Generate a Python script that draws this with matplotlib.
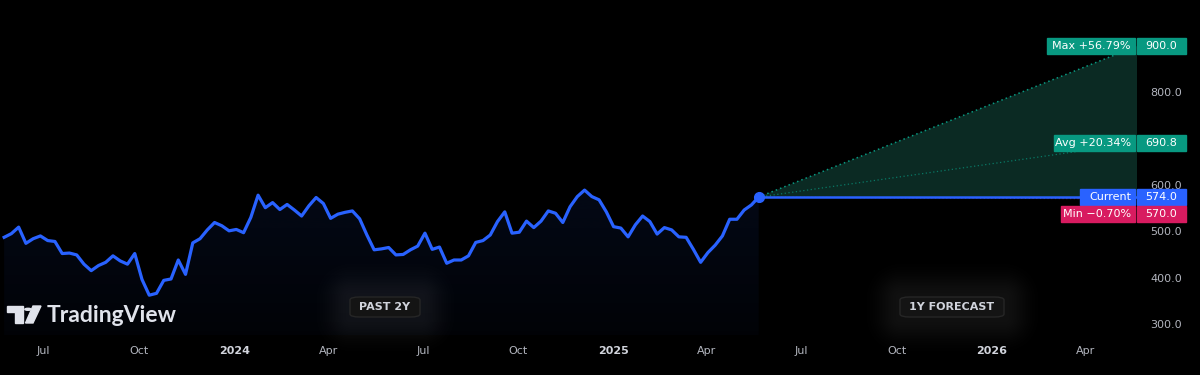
import matplotlib
matplotlib.use('Agg')
import matplotlib.pyplot as plt
import matplotlib.dates as mdates
import matplotlib.transforms as mtransforms
from matplotlib.patches import Rectangle, FancyBboxPatch, Circle, Polygon
import numpy as np
import pandas as pd

# weekly closes, past 2 years
prices = [487, 495, 509, 474, 484, 490, 480, 478, 452, 453,
          449, 429, 415, 426, 433, 447, 436, 429, 452, 396,
          362, 366, 394, 397, 438, 407, 475, 484, 503, 519,
          512, 501, 504, 497, 530, 578, 551, 562, 547, 558,
          546, 533, 555, 573, 560, 528, 537, 541, 544, 527,
          492, 460, 462, 465, 449, 450, 460, 468, 496, 461,
          466, 431, 438, 438, 447, 476, 480, 492, 521, 542,
          496, 498, 522, 508, 522, 544, 539, 519, 553, 575,
          589, 575, 568, 542, 510, 507, 488, 514, 533, 521,
          494, 508, 503, 488, 487, 461, 433, 454, 470, 490,
          526, 526, 546, 557, 574]
last_date = '2025-05-21'
forecast_days = 365

current_price = 574.0
max_target = 900.0
avg_target = 690.8
min_target = 570.0
max_label = 'Max +56.79%'
avg_label = 'Avg +20.34%'
cur_label = 'Current'
min_label = 'Min \u22120.70%'

tick_dates = ['2023-07-01', '2023-10-01', '2024-01-01', '2024-04-01',
              '2024-07-01', '2024-10-01', '2025-01-01', '2025-04-01',
              '2025-07-01', '2025-10-01', '2026-01-01', '2026-04-01']
tick_labels = ['Jul', 'Oct', '2024', 'Apr', 'Jul', 'Oct', '2025', 'Apr',
               'Jul', 'Oct', '2026', 'Apr']
# 700 and 900 sit behind the price tags, so only these show
y_ticks = [300, 400, 500, 600, 800]

BLUE = '#2962ff'
GREEN = '#089981'
PINK = '#d81b60'
BG = '#000000'
GREY = '#b2b5be'

W, H = 1200, 375
fig = plt.figure(figsize=(W / 100, H / 100), dpi=100, facecolor=BG)


def px(x, y):
    return (x / W, 1 - y / H)


# soft glow behind the period pills (drawn in a full-figure background axes)
bg_ax = fig.add_axes([0, 0, 1, 1], zorder=0)
bg_ax.set_axis_off()
gx, gy = np.meshgrid(np.arange(W), np.arange(H))
glow = np.zeros((H, W))
for cx, cy, hw in [(385, 307, 35), (952, 307, 52)]:
    dx = np.maximum(np.abs(gx - cx) - hw, 0)
    dy = np.maximum(np.abs(gy - cy) - 10, 0)
    glow += np.exp(-(dx ** 2 + dy ** 2) / (2 * 16 ** 2))
glow = np.clip(glow, 0, 1) * 0.07
bg_rgba = np.zeros((H, W, 4))
bg_rgba[..., :3] = 1.0
bg_rgba[..., 3] = glow
bg_ax.imshow(bg_rgba, extent=[0, W, H, 0], aspect='auto')
bg_ax.set_xlim(0, W)
bg_ax.set_ylim(H, 0)

ax_h = 335
ax = fig.add_axes([0, (H - ax_h) / H, 1137 / W, ax_h / H], zorder=1)
ax.set_facecolor('none')
for s in ax.spines.values():
    s.set_visible(False)

dates = pd.date_range(end=last_date, periods=len(prices), freq='7D')
end_date = dates[-1] + pd.Timedelta(days=forecast_days)
xn = mdates.date2num(dates)
x_last = xn[-1]
x_end = mdates.date2num(end_date)

y_lo, y_hi = 276, 999.6
ax.set_ylim(y_lo, y_hi)
ax.set_xlim(mdates.date2num(pd.Timestamp('2023-05-20')), x_end)
ppu = ax_h / (y_hi - y_lo)  # pixels per price unit

# gradient fill under the history line
grad = np.linspace(1, 0, 256)
rgba = np.zeros((256, 1, 4))
rgba[..., 0], rgba[..., 1], rgba[..., 2] = 41 / 255, 98 / 255, 1.0
rgba[..., 3] = (0.03 + 0.06 * grad)[:, None]
im = ax.imshow(rgba, extent=[xn[0], x_last, y_lo, max(prices)], aspect='auto',
               origin='upper', zorder=1)
verts = list(zip(xn, prices)) + [(x_last, y_lo), (xn[0], y_lo)]
clip = Polygon(verts, closed=True, transform=ax.transData, facecolor='none', edgecolor='none')
ax.add_patch(clip)
im.set_clip_path(clip)

ax.plot(xn, prices, color=BLUE, lw=2.3, solid_joinstyle='round', zorder=4)

# forecast cone
cone = Polygon([(x_last, current_price), (x_end, max_target), (x_end, min_target)],
               closed=True, facecolor='#0b2a23', edgecolor='none', zorder=2)
ax.add_patch(cone)
ax.plot([x_last, x_end], [current_price, max_target], ls=(0, (1, 2)), color=GREEN, lw=1.1, zorder=3)
ax.plot([x_last, x_end], [current_price, avg_target], ls=(0, (1, 2)), color=GREEN, lw=0.9, alpha=0.7, zorder=3)
ax.plot([x_last, x_end], [current_price, min_target], ls=(0, (1, 2)), color=PINK, lw=0.9, alpha=0.5, zorder=3)
ax.plot([x_last, x_end], [current_price, current_price], color=BLUE, lw=1.8, zorder=4)
ax.plot([x_last], [current_price], 'o', ms=7, color=BLUE, zorder=5)

# axes ticks
ax.yaxis.tick_right()
ax.set_yticks(y_ticks)
ax.set_yticklabels([f'{v:.1f}' for v in y_ticks])
ax.tick_params(axis='y', length=0, pad=9.5, labelsize=8, colors=GREY)
ax.set_xticks(mdates.date2num(pd.to_datetime(tick_dates)))
ax.set_xticklabels(tick_labels)
ax.tick_params(axis='x', length=0, pad=8, labelsize=8, colors=GREY)
for lab in ax.get_xticklabels():
    if lab.get_text().isdigit():
        lab.set_fontweight('bold')
        lab.set_color('#d1d4dc')

# price tags on the right
tr = mtransforms.blended_transform_factory(fig.transFigure, ax.transData)


def tag(yv, left_txt, right_txt, color, left_px, offset_px=0):
    yc = yv - offset_px / ppu
    hh = 8 / ppu
    ax.add_patch(Rectangle((left_px / W, yc - hh), (1135 - left_px) / W, 2 * hh,
                           transform=tr, color=color, clip_on=False, zorder=10))
    ax.add_patch(Rectangle((1137 / W, yc - hh), 49 / W, 2 * hh,
                           transform=tr, color=color, clip_on=False, zorder=10))
    ax.text(1131 / W, yc, left_txt, transform=tr, ha='right', va='center',
            fontsize=8, color='white', zorder=11, clip_on=False)
    ax.text(1161.5 / W, yc, right_txt, transform=tr, ha='center', va='center',
            fontsize=8, color='white', zorder=11, clip_on=False)


tag(max_target, max_label, f'{max_target:.1f}', GREEN, 1047)
tag(avg_target, avg_label, f'{avg_target:.1f}', GREEN, 1054)
tag(current_price, cur_label, f'{current_price:.1f}', BLUE, 1080)
tag(current_price, min_label, f'{min_target:.1f}', PINK, 1061, offset_px=17)


# period pills
def pill(cx, cy, w, text):
    x0, y0 = px(cx - w / 2, cy + 10)
    fig.patches.append(FancyBboxPatch((x0, y0), w / W, 20 / H,
                                      boxstyle='round,pad=0,rounding_size=0.008',
                                      transform=fig.transFigure, facecolor='#141414',
                                      edgecolor='#262626', lw=1, zorder=2))
    fig.text(*px(cx, cy), text, ha='center', va='center', fontsize=8,
             fontweight='bold', color='#d1d4dc', zorder=3)


pill(385, 307, 70, 'PAST 2Y')
pill(952, 307, 104, '1Y FORECAST')

# TradingView logo
logo_c = '#e0e3eb'
fig.patches.append(Polygon([px(7, 306), px(23, 306), px(23, 323), px(15, 323), px(15, 312), px(7, 312)],
                           closed=True, transform=fig.transFigure, color=logo_c))
fig.patches.append(Circle(px(28, 309.3), 3.2 / W, transform=fig.transFigure, color=logo_c))
fig.patches.append(Polygon([px(33, 306), px(41, 306), px(33, 323), px(25.5, 323)],
                           closed=True, transform=fig.transFigure, color=logo_c))
fig.text(*px(47, 315), 'TradingView', ha='left', va='center', fontsize=16.5,
         fontweight='bold', family=['Lato', 'DejaVu Sans'], color=logo_c)

fig.savefig('out.png', dpi=100, facecolor=BG)
